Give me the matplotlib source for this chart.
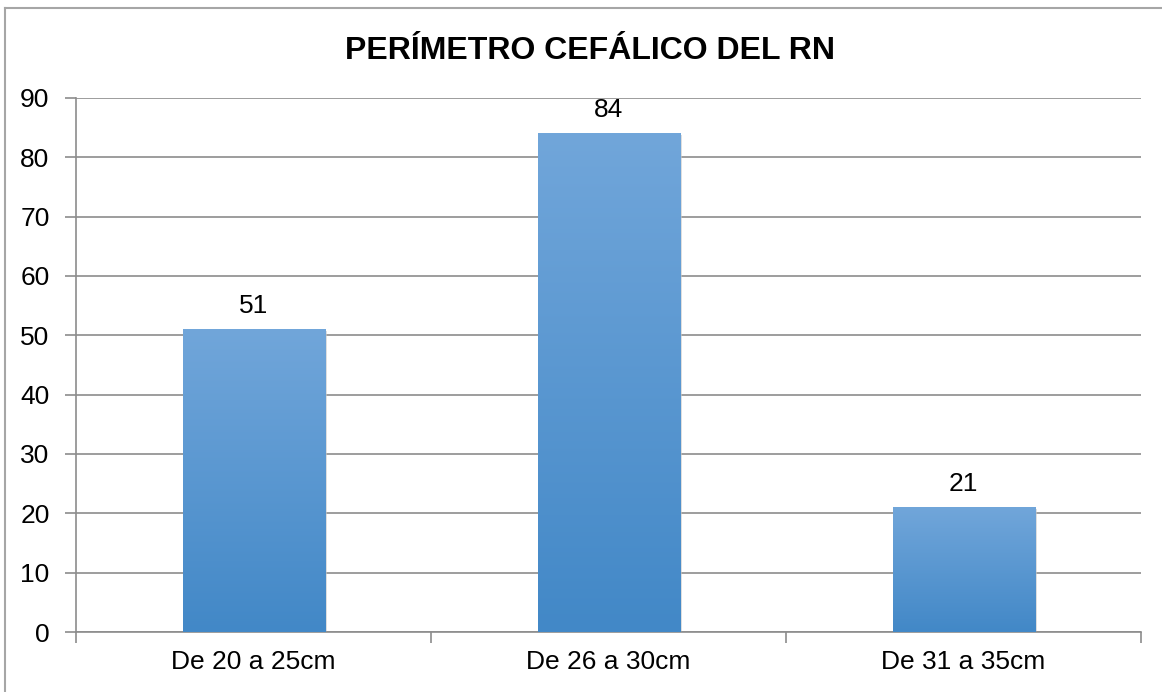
import numpy as np
import matplotlib.pyplot as plt
from matplotlib.lines import Line2D
from matplotlib.colors import LinearSegmentedColormap

plt.rcParams['font.family'] = ['Liberation Sans', 'DejaVu Sans']

categorias = ["De 20 a 25cm", "De 26 a 30cm", "De 31 a 35cm"]
valores = [51, 84, 21]
yticks = [0, 10, 20, 30, 40, 50, 60, 70, 80, 90]

fig = plt.figure(figsize=(11.62, 6.92), dpi=100)
ax = fig.add_axes([0.0654, 0.0867, 0.982 - 0.0654, 0.8584 - 0.0867])

x = np.arange(len(categorias))
ancho = 0.40
barras = ax.bar(x, valores, width=ancho, color="none", zorder=3)

# degradado de arriba (claro) a abajo (oscuro)
cmap = LinearSegmentedColormap.from_list("azul", ["#4288c7", "#71a6da"])
grad = np.linspace(0, 1, 256).reshape(-1, 1)
for b in barras:
    x0, y0 = b.get_x(), b.get_y()
    w, h = b.get_width(), b.get_height()
    # sombra
    ax.add_patch(plt.Rectangle((x0 + 0.006, y0 - 0.3), w, h, color="#c8c8c8",
                               alpha=0.6, zorder=2, lw=0))
    ax.imshow(grad, cmap=cmap, origin="lower", aspect="auto",
              extent=(x0, x0 + w, y0, y0 + h), zorder=3)

for xi, v in zip(x, valores):
    ax.annotate(str(v), (xi, v), xytext=(0, 8), textcoords="offset points",
                ha="center", va="bottom", fontsize=19)

ax.set_xlim(-0.5, len(categorias) - 0.5)
ax.set_ylim(0, 90)
ax.set_yticks(yticks)
ax.set_yticklabels([str(t) for t in yticks], fontsize=19)
ax.set_xticks(x)
ax.set_xticklabels(categorias, fontsize=19)
ax.tick_params(axis="x", length=0, pad=13)
ax.tick_params(axis="y", length=8, color="#8c8c8c", width=1.2, pad=11)

# marcas entre categorias
ax.set_xticks(np.arange(-0.5, len(categorias), 1), minor=True)
ax.tick_params(axis="x", which="minor", length=8, color="#8c8c8c", width=1.2)

ax.grid(axis="y", color="#8c8c8c", lw=1.2, zorder=0)
ax.set_axisbelow(True)
for s in ["top", "right"]:
    ax.spines[s].set_visible(False)
for s in ["left", "bottom"]:
    ax.spines[s].set_color("#8c8c8c")
    ax.spines[s].set_linewidth(1.2)

fig.text(0.508, 0.927, "PERÍMETRO CEFÁLICO DEL RN", ha="center", va="center",
         fontsize=23, fontweight="bold")

# borde del grafico
fig.add_artist(Line2D([5 / 1162, 5 / 1162], [0, 1 - 8 / 692], color="#a6a6a6", lw=1.5))
fig.add_artist(Line2D([5 / 1162, 1], [1 - 8 / 692, 1 - 8 / 692], color="#a6a6a6", lw=1.5))

fig.savefig("out.png", dpi=100)
